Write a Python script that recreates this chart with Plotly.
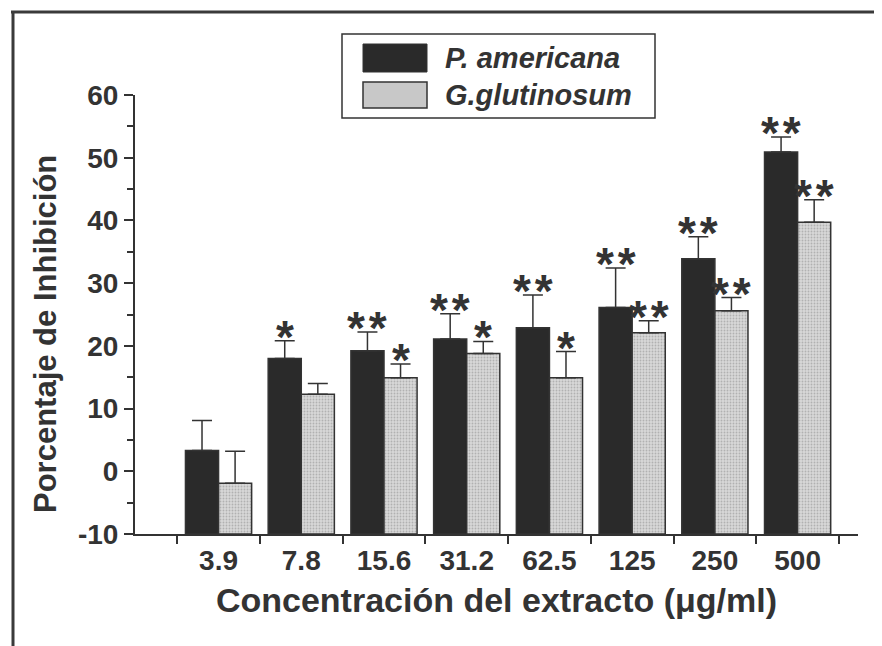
import plotly.graph_objects as go

concentrations = ["3.9", "7.8", "15.6", "31.2", "62.5", "125", "250", "500"]
y_ticks = [-10, 0, 10, 20, 30, 40, 50, 60]

pa_values = [3.3, 18.0, 19.2, 21.1, 22.9, 26.1, 33.9, 50.9]
pa_errors = [4.8, 2.8, 3.0, 4.0, 5.2, 6.3, 3.5, 2.4]
pa_signif = ["", "*", "**", "**", "**", "**", "**", "**"]

gg_values = [-1.9, 12.3, 14.9, 18.8, 14.9, 22.1, 25.6, 39.7]
gg_errors = [5.1, 1.7, 2.2, 1.9, 4.2, 1.9, 2.1, 3.6]
gg_signif = ["", "", "*", "*", "*", "**", "**", "**"]

BASE = -10
INK = "#333333"
FONT = "Liberation Sans, Arial, sans-serif"

# the page body adds an 8px offset, so the figure is 8px smaller
OFF = 8
W, H = 882 - OFF, 646 - OFF
L, R, T, B = 135 - OFF, 24, 95 - OFF, 112
PW, PH = W - L - R, H - T - B


def px_x(p):
    return (p - OFF - L) / PW


def px_y(p):
    return (H - B - (p - OFF)) / PH


xs = list(range(len(concentrations)))

fig = go.Figure()
fig.add_trace(go.Bar(
    x=xs, y=[v - BASE for v in pa_values], base=BASE, name="P. americana",
    marker=dict(color="#2a2a2a", line=dict(color=INK, width=1.5)),
    error_y=dict(type="data", array=pa_errors, arrayminus=[0] * len(xs),
                 symmetric=False, color=INK, thickness=1.5, width=10),
))
fig.add_trace(go.Bar(
    x=xs, y=[v - BASE for v in gg_values], base=BASE, name="G.glutinosum",
    marker=dict(color="#d8d8d8", line=dict(color=INK, width=1.5),
                pattern=dict(shape=".", fgcolor="#8a8a8a", size=3, solidity=0.3)),
    error_y=dict(type="data", array=gg_errors, arrayminus=[0] * len(xs),
                 symmetric=False, color=INK, thickness=1.5, width=10),
))

# significance stars above the error bars
for i in xs:
    for off, vals, errs, sig in ((-0.2, pa_values, pa_errors, pa_signif),
                                 (0.2, gg_values, gg_errors, gg_signif)):
        if sig[i]:
            fig.add_annotation(x=i + off, y=vals[i] + errs[i], text="\u200a".join(sig[i]),
                               showarrow=False, yanchor="bottom", yshift=-24,
                               font=dict(family=FONT, size=46, color=INK, weight="bold"))

# hand-drawn legend box like the original
shapes = [
    dict(type="rect", xref="paper", yref="paper", x0=px_x(342), x1=px_x(655),
         y0=px_y(118), y1=px_y(34), line=dict(color=INK, width=1.5), fillcolor="white"),
    dict(type="rect", xref="paper", yref="paper", x0=px_x(363), x1=px_x(427),
         y0=px_y(72), y1=px_y(44), line=dict(color=INK, width=1), fillcolor="#2a2a2a"),
    dict(type="rect", xref="paper", yref="paper", x0=px_x(363), x1=px_x(427),
         y0=px_y(108), y1=px_y(82), line=dict(color=INK, width=1.5), fillcolor="#c8c8c8"),
    # page frame
    dict(type="line", xref="paper", yref="paper", x0=px_x(13), x1=px_x(13),
         y0=px_y(11), y1=px_y(646), line=dict(color="#3a3a3a", width=3)),
    dict(type="line", xref="paper", yref="paper", x0=px_x(11), x1=px_x(882),
         y0=px_y(12), y1=px_y(12), line=dict(color="#3a3a3a", width=3)),
]
for label, yc in (("P. americana", 58), ("G.glutinosum", 95)):
    fig.add_annotation(xref="paper", yref="paper", x=px_x(443), y=px_y(yc),
                       text="<i>" + label + "</i>", showarrow=False,
                       xanchor="left", yanchor="middle",
                       font=dict(family=FONT, size=29, color=INK, weight="bold"))

# y title sits a little below the plot centre in the original
fig.add_annotation(xref="paper", yref="paper", x=px_x(45), y=px_y(334),
                   text="Porcentaje de Inhibición", textangle=-90, showarrow=False,
                   xanchor="center", yanchor="middle",
                   font=dict(family=FONT, size=31, color=INK, weight="bold"))

fig.update_layout(
    width=W, height=H,
    margin=dict(l=L, r=R, t=T, b=B, pad=0),
    paper_bgcolor="white", plot_bgcolor="white",
    barmode="group", bargap=0.2, bargroupgap=0,
    showlegend=False,
    shapes=shapes,
    font=dict(family=FONT, color=INK),
)
fig.update_xaxes(
    range=[-1.01, 7.73], tickmode="array", tickvals=xs, ticktext=concentrations,
    ticks="outside", ticklen=0, tickcolor="rgba(0,0,0,0)",
    minor=dict(tickmode="array", tickvals=[i - 0.5 for i in xs] + [len(xs) - 0.5],
               ticks="outside", ticklen=8, tickwidth=2, tickcolor=INK),
    showline=True, linecolor=INK, linewidth=2, showgrid=False, zeroline=False,
    tickfont=dict(family=FONT, size=28, color=INK, weight="bold"),
    ticklabelstandoff=0,
    title=dict(text="Concentración del extracto (μg/ml)", standoff=14,
               font=dict(family=FONT, size=34, color=INK, weight="bold")),
)
fig.update_yaxes(
    range=[-10, 60], tickmode="array", tickvals=y_ticks,
    ticktext=[str(v) for v in y_ticks],
    ticks="outside", ticklen=9, tickwidth=2, tickcolor=INK,
    minor=dict(dtick=5, tick0=0, ticks="outside", ticklen=6, tickwidth=2, tickcolor=INK),
    showline=True, linecolor=INK, linewidth=2, showgrid=False, zeroline=False,
    tickfont=dict(family=FONT, size=28, color=INK, weight="bold"),
    ticklabelstandoff=0,
)

fig.write_html("out.html")
